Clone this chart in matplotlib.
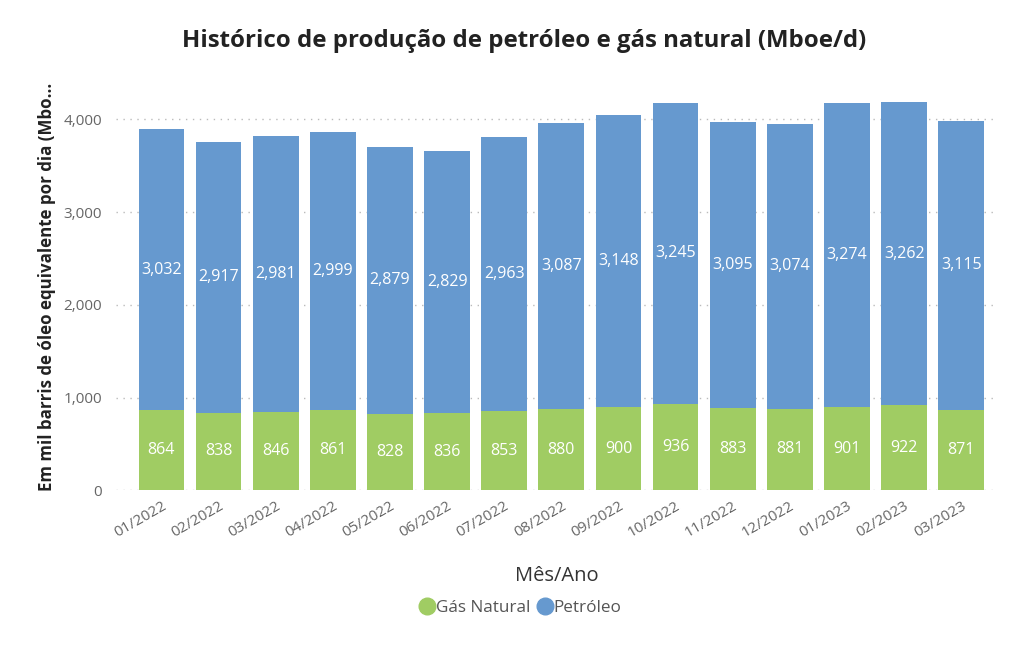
import matplotlib
matplotlib.use("Agg")
import matplotlib.pyplot as plt
from matplotlib.lines import Line2D
import numpy as np

plt.rcParams["font.family"] = ["Open Sans", "DejaVu Sans"]

# Données (Mboe/d)
meses = ["01/2022", "02/2022", "03/2022", "04/2022", "05/2022", "06/2022", "07/2022",
         "08/2022", "09/2022", "10/2022", "11/2022", "12/2022", "01/2023", "02/2023", "03/2023"]
gas_natural = [864, 838, 846, 861, 828, 836, 853, 880, 900, 936, 883, 881, 901, 922, 871]
petroleo = [3032, 2917, 2981, 2999, 2879, 2829, 2963, 3087, 3148, 3245, 3095, 3074, 3274, 3262, 3115]

COR_GAS = "#A0CC63"
COR_PET = "#6699CF"

fig = plt.figure(figsize=(10.24, 6.46), dpi=100)
ax = fig.add_axes([0.113, 0.241, 0.862, 0.63])

x = np.arange(len(meses))
ax.bar(x, gas_natural, width=0.8, color=COR_GAS, zorder=2)
ax.bar(x, petroleo, width=0.8, bottom=gas_natural, color=COR_PET, zorder=2)

# étiquettes de valeurs au centre des segments
for i in range(len(meses)):
    ax.text(x[i], gas_natural[i] / 2, f"{gas_natural[i]:,}", ha="center", va="center",
            color="white", fontsize=11.5, zorder=3)
    ax.text(x[i], gas_natural[i] + petroleo[i] / 2, f"{petroleo[i]:,}", ha="center", va="center",
            color="white", fontsize=11.5, zorder=3)

ax.set_xlim(-0.8, len(meses) - 0.35)
ax.set_ylim(0, 4390)
ax.set_yticks([0, 1000, 2000, 3000, 4000])
ax.set_yticklabels(["0", "1,000", "2,000", "3,000", "4,000"])
ax.yaxis.grid(True, linestyle=(0, (1, 4)), color="#BBBBBB", linewidth=1, zorder=0)
ax.set_xticks(x)
ax.set_xticklabels(meses, rotation=30, ha="right", rotation_mode="anchor", fontsize=11.5)
ax.tick_params(axis="both", length=0, colors="#666666", labelsize=11)
ax.tick_params(axis="y", pad=10)
ax.tick_params(axis="x", pad=6)
for s in ax.spines.values():
    s.set_visible(False)

ax.set_ylabel("Em mil barris de óleo equivalente por dia (Mbo...", fontsize=12.2,
              fontweight="bold", color="#222222", labelpad=5)
ax.set_xlabel("Mês/Ano", fontsize=14.5, color="#333333", labelpad=18)

fig.suptitle("Histórico de produção de petróleo e gás natural (Mboe/d)", fontsize=17.3,
             fontweight="bold", color="#222222", x=0.512, y=0.955)

# légende avec marqueurs ronds
hs = [Line2D([0], [0], marker="o", linestyle="", markersize=12, color=COR_GAS),
      Line2D([0], [0], marker="o", linestyle="", markersize=12, color=COR_PET)]
leg = fig.legend(handles=hs, labels=["Gás Natural", "Petróleo"], loc="center",
                 bbox_to_anchor=(0.508, 0.059), ncol=2, frameon=False, fontsize=12.3,
                 handletextpad=0.05, columnspacing=0.4, handlelength=0.9)
for t in leg.get_texts():
    t.set_color("#555555")

fig.savefig("out.png", dpi=100)
